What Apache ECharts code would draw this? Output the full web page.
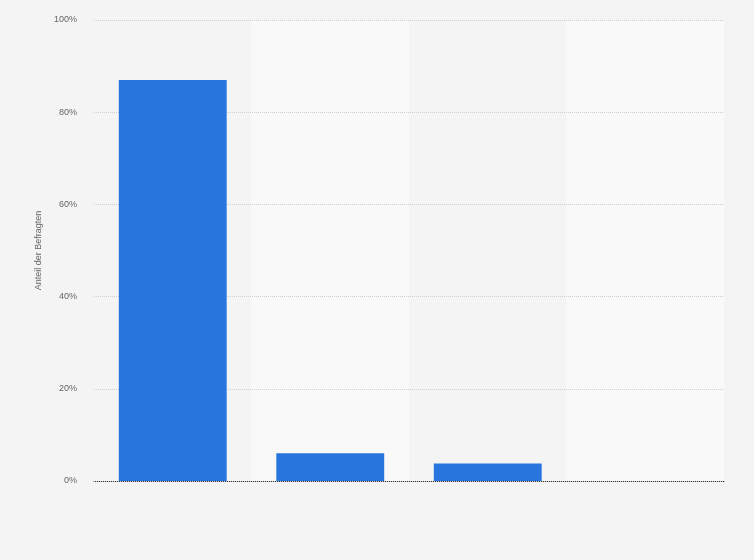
<!DOCTYPE html>
<html>
<head>
<meta charset="utf-8">
<script src="https://cdn.jsdelivr.net/npm/echarts@6/dist/echarts.min.js"></script>
<style>html,body{margin:0;padding:0;background:#f4f4f4;}#c{width:754px;height:560px;}</style>
</head>
<body>
<div id="c"></div>
<script>
const categories = ['Kategorie 1', 'Kategorie 2', 'Kategorie 3', 'Kategorie 4'];
const values = [87, 6, 3.8, 0];
const yTicks = [0, 20, 40, 60, 80, 100];
const yAxisName = 'Anteil der Befragten';

const chart = echarts.init(document.getElementById('c'));
chart.setOption({
  backgroundColor: '#f4f4f4',
  animation: false,
  grid: { left: 94, right: 30, top: 20, bottom: 79 },
  xAxis: {
    type: 'category',
    z: 0,
    data: categories,
    axisLine: { show: true, lineStyle: { color: '#333', width: 1 } },
    axisTick: { show: false },
    axisLabel: { show: false },
    splitArea: { show: true, areaStyle: { color: ['#f4f4f4', '#f9f9f9'] } }
  },
  yAxis: {
    type: 'value',
    z: 1,
    min: yTicks[0],
    max: yTicks[yTicks.length - 1],
    interval: 20,
    name: yAxisName,
    nameLocation: 'middle',
    nameGap: 50,
    nameTextStyle: { color: '#666', fontSize: 9, fontFamily: 'Arial, Liberation Sans' },
    axisLine: { show: false },
    axisTick: { show: false },
    axisLabel: { color: '#666', fontSize: 9, margin: 17, fontFamily: 'Arial, Liberation Sans', formatter: v => v + '%' },
    splitLine: { lineStyle: { color: '#cfcfcf', type: 'dotted', width: 1 } }
  },
  series: [{
    type: 'bar',
    z: 2,
    data: values,
    barWidth: '68.5%',
    itemStyle: { color: '#2876dd' }
  }]
});
</script>
</body>
</html>
